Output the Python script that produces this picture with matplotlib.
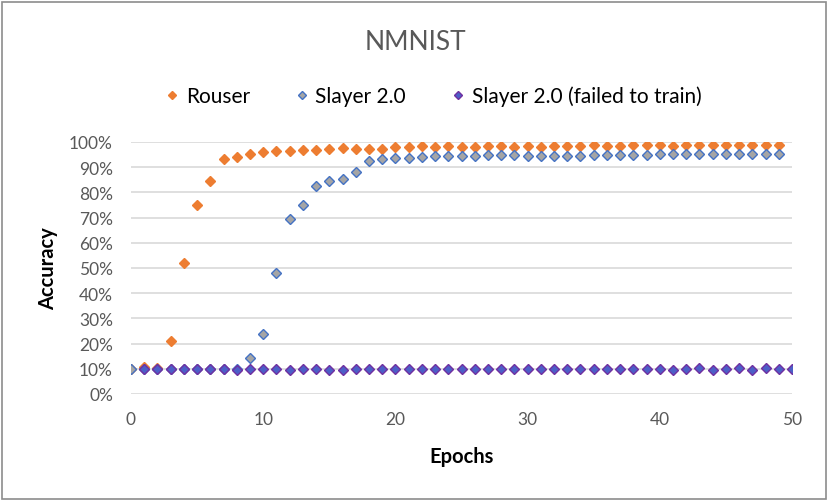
import numpy as np
import matplotlib
matplotlib.use("Agg")
import matplotlib.pyplot as plt

plt.rcParams["font.family"] = ["Lato", "DejaVu Sans"]

# 数据 (accuracy in %)
rouser_epochs = list(range(0, 50))
rouser_acc = [10.0, 10.7, 10.4, 20.9, 51.9, 75.0, 84.6, 93.1, 94.2, 95.2,
              96.0, 96.4, 96.6, 96.8, 96.7, 97.1, 97.5, 97.4, 97.4, 97.4,
              98.1, 98.1, 98.4, 98.1, 98.4, 98.1, 98.2, 98.3, 98.4, 98.1,
              98.4, 98.1, 98.4, 98.4, 98.4, 98.7, 98.4, 98.4, 98.7, 98.7,
              98.7, 98.4, 98.9, 98.7, 98.7, 98.7, 98.7, 98.7, 98.7, 98.9]

slayer_epochs = list(range(0, 50))
slayer_acc = [10.0, 9.9, 9.9, 9.9, 9.9, 9.9, 9.9, 9.9, 9.8, 14.3,
              24.0, 48.1, 69.3, 75.0, 82.5, 84.4, 85.4, 87.9, 92.3, 93.3,
              93.7, 93.8, 94.1, 94.5, 94.5, 94.5, 94.6, 95.0, 94.8, 94.8,
              94.6, 94.6, 94.6, 94.5, 94.6, 94.8, 94.8, 94.8, 94.8, 94.8,
              95.2, 95.4, 95.1, 95.4, 95.4, 95.4, 95.4, 95.4, 95.4, 95.4]

failed_epochs = list(range(1, 51))
failed_acc = [9.9, 9.9, 9.9, 9.9, 9.9, 9.9, 9.9, 9.6, 9.9, 9.9,
              9.9, 9.6, 9.9, 9.9, 9.6, 9.6, 9.9, 9.9, 9.9, 10.1,
              9.9, 9.9, 9.9, 9.9, 10.1, 9.9, 10.1, 10.1, 10.1, 10.1,
              9.9, 9.9, 10.1, 10.1, 9.9, 10.1, 9.9, 9.9, 9.9, 9.9,
              9.6, 10.1, 10.4, 9.6, 10.1, 10.4, 9.6, 10.4, 9.9, 9.9]

x_ticks = [0, 10, 20, 30, 40, 50]
y_ticks = [0, 10, 20, 30, 40, 50, 60, 70, 80, 90, 100]

TEXT_GREY = "#595959"
GRID_GREY = "#d9d9d9"

fig = plt.figure(figsize=(8.30, 5.02), dpi=100)
ax = fig.add_axes([131 / 830, 1 - 395 / 502, 661 / 830, 252 / 502])

ms = 5.0
ax.plot(rouser_epochs, rouser_acc, linestyle="none", marker="D", markersize=ms,
        markerfacecolor="#ED7D31", markeredgecolor="#ED7D31", label="Rouser")
ax.plot(slayer_epochs, slayer_acc, linestyle="none", marker="D", markersize=ms,
        markerfacecolor="#A5A5A5", markeredgecolor="#4472C4", markeredgewidth=1.0,
        label="Slayer 2.0")
ax.plot(failed_epochs, failed_acc, linestyle="none", marker="D", markersize=ms,
        markerfacecolor="#4C5FC7", markeredgecolor="#7030A0", markeredgewidth=1.0,
        label="Slayer 2.0 (failed to train)")

ax.set_xlim(0, 50)
ax.set_ylim(0, 100)
ax.set_xticks(x_ticks)
ax.set_yticks(y_ticks)
ax.set_yticklabels([f"{v}%" for v in y_ticks])
ax.tick_params(axis="both", length=0, labelsize=12.5, colors=TEXT_GREY)
ax.tick_params(axis="y", pad=13)
ax.tick_params(axis="x", pad=12)
ax.grid(axis="y", color=GRID_GREY, linewidth=1.2)
ax.set_axisbelow(True)
for side in ["top", "right", "left", "bottom"]:
    ax.spines[side].set_visible(False)

ax.set_xlabel("Epochs", fontsize=14.5, fontweight="bold", color="black", labelpad=14)
ax.set_ylabel("Accuracy", fontsize=14.5, fontweight="bold", color="black", labelpad=8)

fig.text(0.5, 1 - 42 / 502, "NMNIST", ha="center", va="center",
         fontsize=19, color=TEXT_GREY)

fig.legend(loc="center", bbox_to_anchor=(0.52, 1 - 97 / 502), ncol=3,
           frameon=False, fontsize=15, handletextpad=0.15, columnspacing=2.0,
           markerscale=0.8, handlelength=1.0)

# 外框
border = plt.Rectangle((2 / 830, 2 / 502), 824 / 830, 497 / 502, transform=fig.transFigure,
                       fill=False, edgecolor="#8c8c8c", linewidth=1.2)
fig.patches.append(border)

fig.savefig("out.png", dpi=100)
